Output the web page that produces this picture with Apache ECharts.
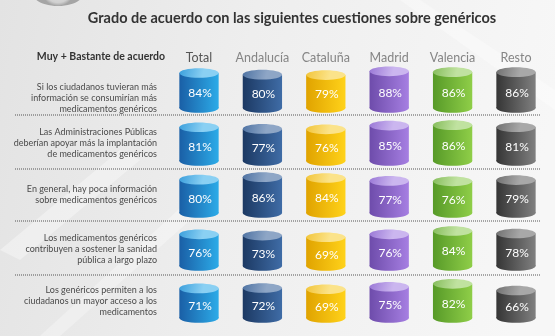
<!DOCTYPE html>
<html>
<head>
<meta charset="utf-8">
<script src="https://cdn.jsdelivr.net/npm/echarts@6/dist/echarts.min.js"></script>
<style>
  html, body { margin: 0; padding: 0; }
  #chart { width: 555px; height: 336px; }
</style>
</head>
<body>
<div id="chart"></div>
<script>
// Survey: share answering "Muy + Bastante de acuerdo", by region
const regions = ['Total', 'Andalucía', 'Cataluña', 'Madrid', 'Valencia', 'Resto'];

const statements = [
  'Si los ciudadanos tuvieran más\ninformación se consumirían más\nmedicamentos genéricos',
  'Las Administraciones Públicas\ndeberían apoyar más la implantación\nde medicamentos genéricos',
  'En general, hay poca información\nsobre medicamentos genéricos',
  'Los medicamentos genéricos\ncontribuyen a sostener la sanidad\npública a largo plazo',
  'Los genéricos permiten a los\nciudadanos un mayor acceso a los\nmedicamentos'
];

const masInformacion   = [84, 80, 79, 88, 86, 86];
const apoyoAdmin       = [81, 77, 76, 85, 86, 81];
const pocaInformacion  = [80, 86, 84, 77, 76, 79];
const sostenibilidad   = [76, 73, 69, 76, 84, 78];
const mayorAcceso      = [71, 72, 69, 75, 82, 66];

const rows = [masInformacion, apoyoAdmin, pocaInformacion, sostenibilidad, mayorAcceso];

// ---- layout ----
const FONT = 'Lato, "Open Sans", sans-serif';
const colCenterFirst = 199, colStep = 63.4;
const gridLeft = colCenterFirst - colStep / 2;
const gridWidth = colStep * regions.length;
const rowBase = [108, 161, 213, 266, 318];     // y of the value-0 baseline in each row
const rowHeight = 50;
const labelCenter = [98, 143, 195, 249, 301];
const separators = [115, 169, 221, 275];

// cylinder colours per column: [left side, right side, lid light, lid dark]
const palette = [
  ['#1a5fa6', '#2cabe8', '#8ad0f3', '#3b9fdc'],
  ['#1c3963', '#3f6ca6', '#8ea6c6', '#4f73a3'],
  ['#e0a300', '#ffd21a', '#fbe38a', '#f2c53a'],
  ['#6e4cab', '#a67fe2', '#cbb6ef', '#9a78d6'],
  ['#579a28', '#8fce48', '#c0e2a0', '#86bd5c'],
  ['#353535', '#808080', '#a8a8a8', '#707070']
];

function cylinder(params, api) {
  const idx = api.value(0);
  const v = api.value(1);
  const top = api.coord([idx, v]);
  const base = api.coord([idx, 0]);
  const w = api.size([1, 0])[0] * 0.62;
  const rx = w / 2, ry = 4.8;
  const cx = top[0];
  const c = palette[idx];
  const side = new echarts.graphic.LinearGradient(0, 0, 1, 0, [
    { offset: 0, color: c[0] },
    { offset: 1, color: c[1] }
  ]);
  const lid = new echarts.graphic.LinearGradient(0, 0, 1, 1, [
    { offset: 0, color: c[3] },
    { offset: 0.6, color: c[2] },
    { offset: 1, color: c[2] }
  ]);
  return {
    type: 'group',
    children: [
      { type: 'ellipse', shape: { cx: cx, cy: base[1], rx: rx, ry: ry }, style: { fill: side } },
      { type: 'rect', shape: { x: cx - rx, y: top[1], width: w, height: base[1] - top[1] }, style: { fill: side } },
      { type: 'ellipse', shape: { cx: cx, cy: top[1], rx: rx, ry: ry }, style: { fill: lid } },
      {
        type: 'text',
        style: {
          text: v + '%',
          x: cx + 1,
          y: (top[1] + base[1]) / 2 + 3,
          align: 'center',
          verticalAlign: 'middle',
          fill: '#ffffff',
          font: '12px ' + FONT
        }
      }
    ]
  };
}

const grids = [], xAxes = [], yAxes = [], series = [];
rows.forEach(function (vals, i) {
  grids.push({ left: gridLeft, width: gridWidth, top: rowBase[i] - rowHeight, height: rowHeight });
  xAxes.push({ type: 'category', gridIndex: i, data: regions, show: false });
  yAxes.push({ type: 'value', gridIndex: i, min: 0, max: 120, show: false });
  series.push({
    type: 'custom',
    xAxisIndex: i,
    yAxisIndex: i,
    renderItem: cylinder,
    data: vals.map(function (v, j) { return [j, v]; }),
    silent: true
  });
});

// header row with the region names
grids.push({ left: gridLeft, width: gridWidth, top: 64, height: 1 });
xAxes.push({
  type: 'category', gridIndex: rows.length, data: regions, position: 'top',
  axisLine: { show: false }, axisTick: { show: false },
  axisLabel: {
    interval: 0, margin: 0, fontFamily: FONT, fontSize: 12.5,
    color: function (val) { return val === 'Total' ? '#555555' : '#858585'; }
  }
});
yAxes.push({ type: 'value', gridIndex: rows.length, show: false });

const graphics = [
  // grey pill peeking at the top-left corner
  {
    type: 'ellipse', shape: { cx: 58, cy: -6, rx: 25, ry: 12 },
    style: {
      fill: new echarts.graphic.RadialGradient(0.5, 0.3, 0.7, [
        { offset: 0, color: '#e9e9e9' }, { offset: 0.8, color: '#d0d0d0' }, { offset: 1, color: '#a5a5a5' }
      ])
    }
  },
  // faint diagonal streaks of the background
  { type: 'polygon', shape: { points: [[0, 250], [120, 150], [140, 160], [20, 260]] }, style: { fill: 'rgba(255,255,255,0.35)' } },
  { type: 'polygon', shape: { points: [[40, 336], [200, 190], [215, 198], [60, 336]] }, style: { fill: 'rgba(255,255,255,0.3)' } },
  { type: 'polygon', shape: { points: [[420, 0], [555, 90], [555, 110], [400, 0]] }, style: { fill: 'rgba(255,255,255,0.35)' } },
  {
    type: 'text',
    style: {
      text: 'Grado de acuerdo con las siguientes cuestiones sobre genéricos',
      x: 292, y: 18, align: 'center', verticalAlign: 'middle',
      fill: '#333333', font: 'bold 14.5px ' + FONT
    }
  },
  {
    type: 'text',
    style: {
      text: 'Muy + Bastante de acuerdo', x: 165, y: 57, align: 'right', verticalAlign: 'middle',
      fill: '#333333', font: 'bold 10.5px ' + FONT
    }
  }
];

statements.forEach(function (s, i) {
  graphics.push({
    type: 'text',
    style: {
      text: s, x: 157, y: labelCenter[i], align: 'right', verticalAlign: 'middle',
      fill: '#4a4a4a', font: '9px ' + FONT, lineHeight: 11
    }
  });
});
separators.forEach(function (y) {
  graphics.push({
    type: 'line', shape: { x1: 15, y1: y, x2: 541, y2: y },
    style: { stroke: '#555555', lineWidth: 1, lineDash: [1, 1] }
  });
});

const chart = echarts.init(document.getElementById('chart'), null, { renderer: 'canvas' });
chart.setOption({
  animation: false,
  backgroundColor: new echarts.graphic.LinearGradient(0, 0, 1, 0.3, [
    { offset: 0, color: '#e3e3e3' },
    { offset: 0.45, color: '#eeeeee' },
    { offset: 1, color: '#f7f7f7' }
  ]),
  graphic: graphics,
  grid: grids,
  xAxis: xAxes,
  yAxis: yAxes,
  series: series
});
</script>
</body>
</html>
